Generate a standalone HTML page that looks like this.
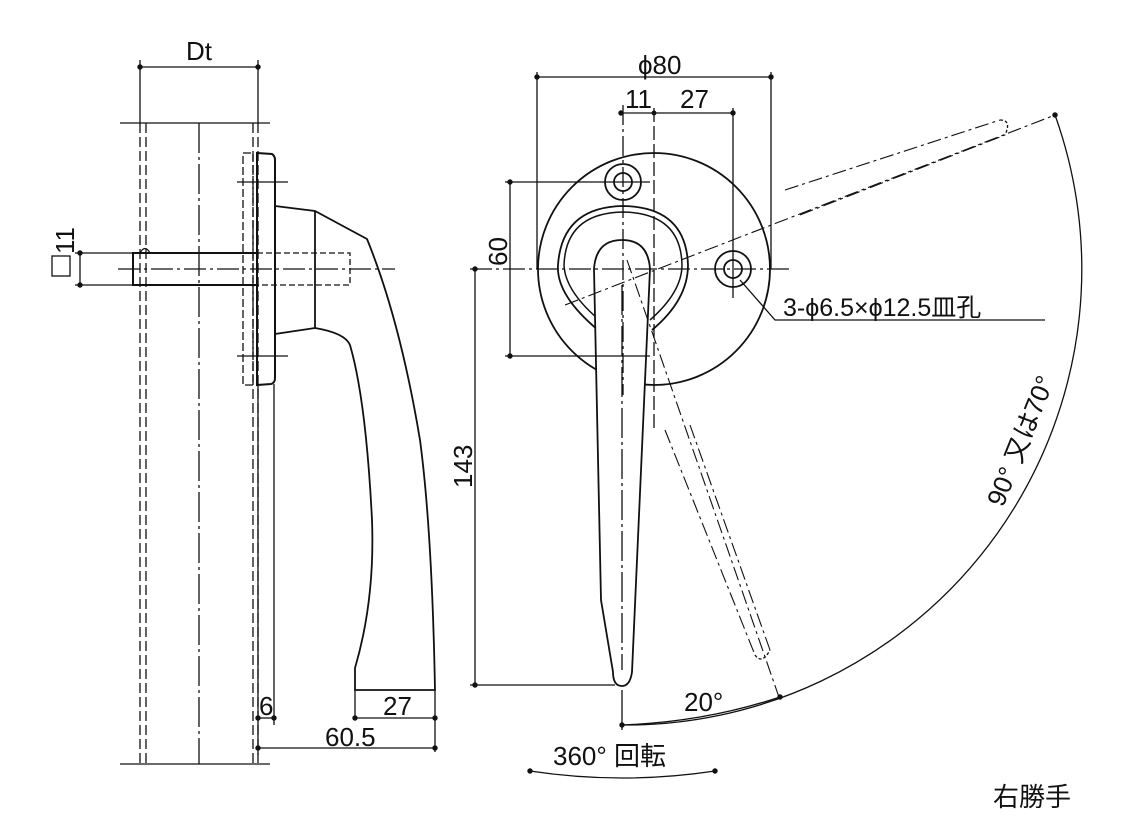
<!DOCTYPE html>
<html><head><meta charset="utf-8"><style>
html,body{margin:0;padding:0;background:#fff}
svg{display:block}
text{font-family:"Liberation Sans","Noto Sans CJK JP",sans-serif;fill:#111}
</style></head><body>
<svg width="1139" height="819" viewBox="0 0 1139 819" xmlns="http://www.w3.org/2000/svg">
<defs>
<marker id="d" viewBox="0 0 6 6" refX="3" refY="3" markerWidth="5" markerHeight="5"><circle cx="3" cy="3" r="2.5" fill="#111"/></marker>
</defs>
<g stroke="#111" fill="none" stroke-width="1.3">
<line x1="120" y1="123" x2="270" y2="123"/>
<line x1="120" y1="764" x2="270" y2="764"/>
<g stroke-dasharray="10,4">
<line x1="140" y1="123" x2="140" y2="764"/><line x1="146" y1="123" x2="146" y2="764"/>
<line x1="253" y1="123" x2="253" y2="764"/><line x1="258" y1="123" x2="258" y2="764"/>
</g>
<line x1="199" y1="123" x2="199" y2="764" stroke-dasharray="30,4,3,4"/>
<line x1="258" y1="384" x2="258" y2="755"/>
<line x1="274" y1="384" x2="274" y2="725"/>
<line x1="140" y1="60" x2="140" y2="123"/><line x1="258" y1="60" x2="258" y2="123"/>
<line x1="140" y1="67" x2="258" y2="67" marker-start="url(#d)" marker-end="url(#d)"/>
<rect x="243" y="153" width="10" height="232" stroke-dasharray="8,3"/>
<path d="M257 153 L272 154 Q275 156 275 160 L275 378 Q275 383 271 384 L257 385 Z" stroke-width="2"/>
<line x1="237" y1="182" x2="288" y2="182"/><line x1="237" y1="356" x2="288" y2="356"/>
<rect x="133" y="253" width="124" height="32" stroke-width="2"/>
<path d="M140 253 Q145 244 150 253" />
<path d="M257 253 L350 253 L350 285 L257 285" stroke-dasharray="6,3"/>
<line x1="118" y1="269" x2="395" y2="269" stroke-dasharray="22,4,3,4"/>
<path d="M275 206 L315 211 L367 239 Q400 320 420 440 Q432 530 435 690 L355 690 L355 668 Q375 600 372 520 Q366 400 350 345 Q345 333 315 328 L275 334" stroke-width="1.8"/>
<line x1="315" y1="211" x2="315" y2="328" stroke-width="1.8"/>
<line x1="75" y1="253" x2="133" y2="253"/><line x1="75" y1="285" x2="133" y2="285"/>
<line x1="80" y1="253" x2="80" y2="285" marker-start="url(#d)" marker-end="url(#d)"/>
<line x1="355" y1="690" x2="355" y2="720"/><line x1="435" y1="690" x2="435" y2="752"/>
<line x1="258" y1="718" x2="274" y2="718" marker-start="url(#d)" marker-end="url(#d)"/>
<line x1="355" y1="718" x2="435" y2="718" marker-start="url(#d)" marker-end="url(#d)"/>
<line x1="258" y1="748" x2="435" y2="748" marker-start="url(#d)" marker-end="url(#d)"/>

<circle cx="654" cy="269" r="116" stroke-width="1.8"/>
<circle cx="623" cy="182" r="18" stroke-width="1.8"/><circle cx="623" cy="182" r="9" stroke-width="1.8"/>
<circle cx="733" cy="269" r="18" stroke-width="1.8"/><circle cx="733" cy="269" r="9" stroke-width="1.8"/>
<circle cx="623" cy="356" r="17" stroke-dasharray="4,3"/><circle cx="623" cy="356" r="9" stroke-dasharray="4,3"/>
<path d="M598 330 Q556 295 558 265 Q562 207 623 206 Q686 207 688 265 Q688 300 652 330" stroke-width="1.8"/>
<path d="M597 318 Q565 290 564 265 Q566 213 623 212 Q681 213 682 265 Q682 292 650 320" stroke-width="1.5"/>
<path d="M601 600 L594 269 Q596 240 622 240 Q648 240 650 269 L632 672 Q630 686 622 686 Q613 686 613 672 Z" stroke-width="1.8" fill="#fff"/>
<line x1="622" y1="285" x2="622" y2="670" stroke-dasharray="30,4,3,4"/>
<line x1="623" y1="105" x2="623" y2="395" stroke-dasharray="20,4,3,4"/>
<line x1="654" y1="108" x2="654" y2="430" stroke-dasharray="14,4"/>
<line x1="470" y1="269" x2="790" y2="269" stroke-dasharray="22,4,3,4"/>
<line x1="733" y1="108" x2="733" y2="298"/>
<line x1="537" y1="72" x2="537" y2="269"/><line x1="771" y1="72" x2="771" y2="269"/>
<line x1="537" y1="77" x2="771" y2="77" marker-start="url(#d)" marker-end="url(#d)"/>
<line x1="621" y1="113" x2="733" y2="113" marker-start="url(#d)" marker-end="url(#d)"/>
<circle cx="654" cy="113" r="1.8" fill="#111"/>
<line x1="505" y1="182" x2="650" y2="182"/><line x1="505" y1="356" x2="650" y2="356"/>
<line x1="510" y1="182" x2="510" y2="356" marker-start="url(#d)" marker-end="url(#d)"/>
<line x1="470" y1="685" x2="615" y2="685"/>
<line x1="475" y1="269" x2="475" y2="685" marker-start="url(#d)" marker-end="url(#d)"/>
<path d="M740 280 L775 320 L1045 320"/>
<g stroke-dasharray="14,4,3,4" stroke-width="1.1">
<line x1="565" y1="305" x2="1055" y2="115"/>
<line x1="785" y1="190" x2="1000" y2="120"/>
<line x1="800" y1="215" x2="1005" y2="135"/>
<line x1="627" y1="260" x2="780" y2="700"/>
<line x1="665" y1="430" x2="755" y2="655"/>
<line x1="690" y1="425" x2="770" y2="650"/>
</g>
<path d="M1000 120 Q1012 120 1005 135" stroke-dasharray="3,2"/>
<path d="M755 655 Q762 665 770 650" stroke-dasharray="3,2"/>
<line x1="622" y1="690" x2="622" y2="730"/>
<path d="M622 725 A456 456 0 0 0 1055 115" marker-start="url(#d)" marker-end="url(#d)"/>
<path d="M622 725 Q705 722 780 697" marker-end="url(#d)"/>
<path d="M530 771 Q622 785 715 771" marker-start="url(#d)" marker-end="url(#d)"/>
</g>
<g font-size="26">
<text x="186" y="60">Dt</text>
<rect x="52" y="256" width="18" height="20" fill="none" stroke="#111" stroke-width="1.3"/>
<text transform="translate(74,254) rotate(-90)">11</text>
<text x="259" y="715">6</text>
<text x="383" y="715">27</text>
<text x="325" y="746">60.5</text>
<text x="638" y="74">ϕ80</text>
<text x="625" y="108">11</text>
<text x="680" y="108">27</text>
<text transform="translate(507,266) rotate(-90)">60</text>
<text transform="translate(472,488) rotate(-90)">143</text>
<text x="783" y="316" font-size="25">3-ϕ6.5×ϕ12.5皿孔</text>
<text transform="translate(1003,508) rotate(-68)">90° 又は70°</text>
<text x="684" y="711">20°</text>
<text x="553" y="765">360° 回転</text>
<text x="993" y="806">右勝手</text>
</g>
</svg>
</body></html>
